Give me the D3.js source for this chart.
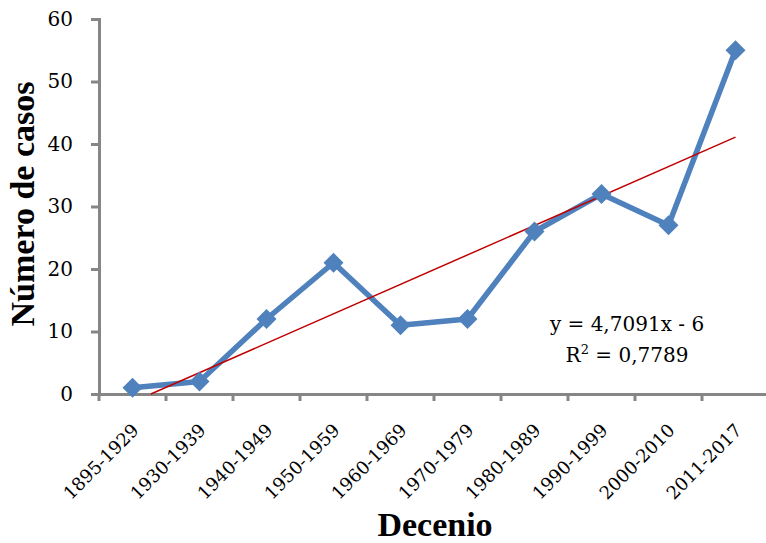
<!DOCTYPE html>
<html><head><meta charset="utf-8">
<script src="https://cdn.jsdelivr.net/npm/d3@7/dist/d3.min.js"></script>
<style>body{margin:0;background:#fff}svg{display:block}</style>
</head><body>
<svg id="c" width="766" height="543"></svg>
<script>
const categories = ["1895-1929","1930-1939","1940-1949","1950-1959","1960-1969","1970-1979","1980-1989","1990-1999","2000-2010","2011-2017"];
const casos = [1,2,12,21,11,12,26,32,27,55];
const yTicks = [0,10,20,30,40,50,60];
const trendSlope = 4.7091, trendIntercept = -6;
const eqLabels = ["y = 4,7091x - 6", "R² = 0,7789"];

(function(){
const svg = d3.select("#c");
const font = "'DejaVu Serif', 'Liberation Serif', serif";
const boldFont = "'Liberation Serif', 'DejaVu Serif', serif";
const mLeft = 99, mRight = 769, mTop = 19, mBottom = 394;
const x = d3.scaleBand().domain(categories).range([mLeft, mRight]);
const y = d3.scaleLinear().domain([0,60]).range([mBottom, mTop]);
const axisColor = "#868686";

// y axis
const ya = svg.append("g").attr("transform", `translate(${mLeft},0)`)
  .call(d3.axisLeft(y).tickValues(yTicks).tickSize(8).tickPadding(18));
ya.select(".domain").attr("stroke", axisColor).attr("stroke-width", 3);
ya.selectAll(".tick line").attr("stroke", axisColor).attr("stroke-width", 3);
ya.selectAll("text").attr("font-family", font).attr("font-size", 20).attr("fill", "#000");

// x axis
const xa = svg.append("g").attr("transform", `translate(0,${mBottom})`)
  .call(d3.axisBottom(x).tickSize(0).tickPadding(0));
xa.select(".domain").attr("stroke", axisColor).attr("stroke-width", 3);
xa.selectAll(".tick line").remove();
xa.selectAll(".tick text")
  .attr("font-family", font).attr("font-size", 18).attr("fill", "#000")
  .attr("text-anchor", "end")
  .attr("transform", "translate(3,33) rotate(-45)")
  .attr("dy", "0.35em").attr("dx", 0).attr("y", 0);
// category boundary ticks
const bounds = categories.map(c => x(c)).concat([mRight]);
svg.append("g").selectAll("line").data(bounds).join("line")
  .attr("x1", d => d).attr("x2", d => d)
  .attr("y1", mBottom).attr("y2", mBottom + 7)
  .attr("stroke", axisColor).attr("stroke-width", 3);

const cx = c => x(c) + x.bandwidth()/2;
const xi = i => x(categories[0]) + x.bandwidth()/2 + (i-1) * x.step();

// data line
svg.append("path").datum(casos)
  .attr("d", d3.line().x((d,i) => cx(categories[i])).y(d => y(d)))
  .attr("fill", "none").attr("stroke", "#4F81BD").attr("stroke-width", 5.5)
  .attr("stroke-linejoin", "round");

// trend line (clipped at y=0)
const xStart = -trendIntercept / trendSlope;
const xEnd = categories.length;
svg.append("line")
  .attr("x1", xi(xStart)).attr("y1", y(trendSlope*xStart + trendIntercept))
  .attr("x2", xi(xEnd)).attr("y2", y(trendSlope*xEnd + trendIntercept))
  .attr("stroke", "#C00000").attr("stroke-width", 1.5);

// markers
svg.append("g").selectAll("path").data(casos).join("path")
  .attr("d", d3.symbol().type(d3.symbolSquare).size(200))
  .attr("transform", (d,i) => `translate(${cx(categories[i])},${y(d)}) rotate(45)`)
  .attr("fill", "#4F81BD");

// equation
const eq = svg.append("g").selectAll("text").data(eqLabels).join("text")
  .attr("x", 627).attr("y", (d,i) => 331 + i*31)
  .attr("text-anchor", "middle")
  .attr("font-family", font).attr("font-size", 20).attr("fill", "#000");
eq.each(function(d){
  const t = d3.select(this);
  const parts = d.split("²");
  t.append("tspan").text(parts[0]);
  if (parts.length > 1) {
    t.append("tspan").attr("dy", -8).attr("font-size", 13).text("2");
    t.append("tspan").attr("dy", 8).text(parts[1]);
  }
});

// axis titles
svg.append("text")
  .attr("transform", `translate(34,204) rotate(-90)`)
  .attr("text-anchor", "middle")
  .attr("font-family", boldFont).attr("font-size", 34).attr("font-weight", "bold")
  .text("Número de casos");
svg.append("text")
  .attr("x", 435).attr("y", 536).attr("text-anchor", "middle")
  .attr("font-family", boldFont).attr("font-size", 34).attr("font-weight", "bold")
  .text("Decenio");
})();
</script>
</body></html>
